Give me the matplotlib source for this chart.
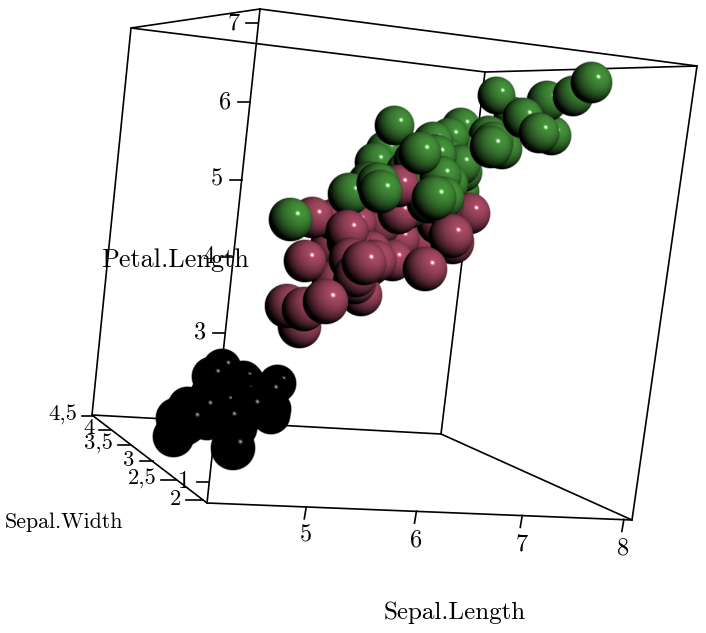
import numpy as np
import matplotlib
matplotlib.use("Agg")
import matplotlib.pyplot as plt

# iris values: sepal length, sepal width, petal length
setosa_sl = [5.1,4.9,4.7,4.6,5.0,5.4,4.6,5.0,4.4,4.9,5.4,4.8,4.8,4.3,5.8,5.7,5.4,5.1,5.7,5.1,5.4,5.1,4.6,5.1,4.8,
             5.0,5.0,5.2,5.2,4.7,4.8,5.4,5.2,5.5,4.9,5.0,5.5,4.9,4.4,5.1,5.0,4.5,4.4,5.0,5.1,4.8,5.1,4.6,5.3,5.0]
setosa_sw = [3.5,3.0,3.2,3.1,3.6,3.9,3.4,3.4,2.9,3.1,3.7,3.4,3.0,3.0,4.0,4.4,3.9,3.5,3.8,3.8,3.4,3.7,3.6,3.3,3.4,
             3.0,3.4,3.5,3.4,3.2,3.1,3.4,4.1,4.2,3.1,3.2,3.5,3.6,3.0,3.4,3.5,2.3,3.2,3.5,3.8,3.0,3.8,3.2,3.7,3.3]
setosa_pl = [1.4,1.4,1.3,1.5,1.4,1.7,1.4,1.5,1.4,1.5,1.5,1.6,1.4,1.1,1.2,1.5,1.3,1.4,1.7,1.5,1.7,1.5,1.0,1.7,1.9,
             1.6,1.6,1.5,1.4,1.6,1.6,1.5,1.5,1.4,1.5,1.2,1.3,1.4,1.3,1.5,1.3,1.3,1.3,1.6,1.9,1.4,1.6,1.4,1.5,1.4]
versi_sl = [7.0,6.4,6.9,5.5,6.5,5.7,6.3,4.9,6.6,5.2,5.0,5.9,6.0,6.1,5.6,6.7,5.6,5.8,6.2,5.6,5.9,6.1,6.3,6.1,6.4,
            6.6,6.8,6.7,6.0,5.7,5.5,5.5,5.8,6.0,5.4,6.0,6.7,6.3,5.6,5.5,5.5,6.1,5.8,5.0,5.6,5.7,5.7,6.2,5.1,5.7]
versi_sw = [3.2,3.2,3.1,2.3,2.8,2.8,3.3,2.4,2.9,2.7,2.0,3.0,2.2,2.9,2.9,3.1,3.0,2.7,2.2,2.5,3.2,2.8,2.5,2.8,2.9,
            3.0,2.8,3.0,2.9,2.6,2.4,2.4,2.7,2.7,3.0,3.4,3.1,2.3,3.0,2.5,2.6,3.0,2.6,2.3,2.7,3.0,2.9,2.9,2.5,2.8]
versi_pl = [4.7,4.5,4.9,4.0,4.6,4.5,4.7,3.3,4.6,3.9,3.5,4.2,4.0,4.7,3.6,4.4,4.5,4.1,4.5,3.9,4.8,4.0,4.9,4.7,4.3,
            4.4,4.8,5.0,4.5,3.5,3.8,3.7,3.9,5.1,4.5,4.5,4.7,4.4,4.1,4.0,4.4,4.6,4.0,3.3,4.2,4.2,4.2,4.3,3.0,4.1]
virgi_sl = [6.3,5.8,7.1,6.3,6.5,7.6,4.9,7.3,6.7,7.2,6.5,6.4,6.8,5.7,5.8,6.4,6.5,7.7,7.7,6.0,6.9,5.6,7.7,6.3,6.7,
            7.2,6.2,6.1,6.4,7.2,7.4,7.9,6.4,6.3,6.1,7.7,6.3,6.4,6.0,6.9,6.7,6.9,5.8,6.8,6.7,6.7,6.3,6.5,6.2,5.9]
virgi_sw = [3.3,2.7,3.0,2.9,3.0,3.0,2.5,2.9,2.5,3.6,3.2,2.7,3.0,2.5,2.8,3.2,3.0,3.8,2.6,2.2,3.2,2.8,2.8,2.7,3.3,
            3.2,2.8,3.0,2.8,3.0,2.8,3.8,2.8,2.8,2.6,3.0,3.4,3.1,3.0,3.1,3.1,3.1,2.7,3.2,3.3,3.0,2.5,3.0,3.4,3.0]
virgi_pl = [6.0,5.1,5.9,5.6,5.8,6.6,4.5,6.3,5.8,6.1,5.1,5.3,5.5,5.0,5.1,5.3,5.5,6.7,6.9,5.0,5.7,4.9,6.7,4.9,5.7,
            6.0,4.8,4.9,5.6,5.8,6.1,6.4,5.6,5.1,5.6,6.1,5.6,5.5,4.8,5.4,5.6,5.1,5.1,5.9,5.7,5.2,5.0,5.2,5.4,5.1]

sl_ticks = [5, 6, 7, 8]
sw_ticks = [2, 2.5, 3, 3.5, 4, 4.5]
sw_tick_labels = ["2", "2,5", "3", "3,5", "4", "4,5"]
sw_tick_lens = [17, 15, 13, 13, 12, 11]
pl_ticks = [1, 2, 3, 4, 5, 6, 7]

# box limits in data units and where its corners land in the picture
xlo, xhi = 4.13, 8.09
ylo, yhi = 1.93, 4.52
zlo, zhi = 0.72, 7.18
box_world = [(xlo, ylo, zlo), (xhi, ylo, zlo), (xhi, yhi, zlo), (xlo, yhi, zlo),
             (xlo, ylo, zhi), (xhi, ylo, zhi), (xhi, yhi, zhi), (xlo, yhi, zhi)]
box_pixels = [(207, 503), (632, 520), (441, 434), (92, 415),
              (260, 9), (697, 66), (485, 72), (131, 28)]
box_edges = [(0, 1), (1, 2), (2, 3), (3, 0), (4, 5), (5, 6), (6, 7), (7, 4),
             (0, 4), (1, 5), (2, 6), (3, 7)]

# camera matrix from the box corners
rows = []
for (X, Y, Z), (u, v) in zip(box_world, box_pixels):
    rows.append([X, Y, Z, 1, 0, 0, 0, 0, -u*X, -u*Y, -u*Z, -u])
    rows.append([0, 0, 0, 0, X, Y, Z, 1, -v*X, -v*Y, -v*Z, -v])
P = np.linalg.svd(np.array(rows))[2][-1].reshape(3, 4)
P = P / (P[2] @ np.array([6.1, 3.2, 3.95, 1]))


def project(x, y, z):
    q = P @ np.array([x, y, z, np.ones_like(x)], dtype=float)
    return q[0]/q[2], q[1]/q[2], q[2]


def sphere_sprite(color, spec_peak, n=64):
    u, v = np.meshgrid(np.linspace(-1, 1, n), np.linspace(1, -1, n))
    rr = np.sqrt(u**2 + v**2)
    nz = np.sqrt(np.clip(1 - rr**2, 0, 1))
    light = np.array([0.44, 0.37, 0.82])
    light = light / np.linalg.norm(light)
    diff = np.clip(u*light[0] + v*light[1] + nz*light[2], 0, 1)
    # highlight sits a third of the radius up and right of the centre
    half = np.array([0.33, 0.28, 0.90])
    half = half / np.linalg.norm(half)
    spec = np.clip(u*half[0] + v*half[1] + nz*half[2], 0, 1)**320 * spec_peak
    img = np.zeros((n, n, 4))
    for i in range(3):
        img[..., i] = np.clip(color[i]*diff + spec, 0, 1)
    img[..., 3] = np.clip((1 - rr)*n/2, 0, 1)
    return img


fig = plt.figure(figsize=(7.06, 6.33), dpi=100)
ax = fig.add_axes([0, 0, 1, 1])
font = dict(family="cmr10", color="black", zorder=1)

for a, b in box_edges:
    ax.plot([box_pixels[a][0], box_pixels[b][0]], [box_pixels[a][1], box_pixels[b][1]],
            color="black", lw=1.2, solid_capstyle="round", zorder=1)

# ticks on the three front edges
for t in sl_ticks:
    px, py, w = project(t, ylo, zlo)
    ax.plot([px, px-2], [py, py+12], color="black", lw=1.2, zorder=1)
    ax.text(px-0.5, py+29, str(t), ha="center", va="center", fontsize=17.5, **font)
for t, lab, ln in zip(sw_ticks, sw_tick_labels, sw_tick_lens):
    px, py, w = project(xlo, t, zlo)
    ax.plot([px, px-ln], [py, py], color="black", lw=1.2, zorder=1)
    ax.text(px-ln-5, py-1, lab, ha="right", va="center", fontsize=16.3, **font)
for t in pl_ticks:
    px, py, w = project(xlo, ylo, t)
    ax.plot([px, px-12], [py, py], color="black", lw=1.2, zorder=1)
    ax.text(px-19, py, str(t), ha="right", va="center", fontsize=17.5, **font)

ax.text(455, 613, "Sepal.Length", ha="center", va="center", fontsize=18, **font)
ax.text(64, 522, "Sepal.Width", ha="center", va="center", fontsize=15.8, **font)
ax.text(175.5, 260, "Petal.Length", ha="center", va="center", fontsize=18.9, **font)

# spheres, farthest first
groups = [(setosa_sl, setosa_sw, setosa_pl, (0.0, 0.0, 0.0), 0.72),
          (versi_sl, versi_sw, versi_pl, (0.66, 0.29, 0.39), 0.85),
          (virgi_sl, virgi_sw, virgi_pl, (0.27, 0.57, 0.23), 0.85)]
marks = []
for sl, sw, pl, color, spec_peak in groups:
    sprite = sphere_sprite(color, spec_peak)
    px, py, w = project(np.array(sl), np.array(sw), np.array(pl))
    for i in range(len(sl)):
        marks.append((w[i], px[i], py[i], sprite))
marks.sort(key=lambda m: -m[0])
for w, px, py, sprite in marks:
    r = 20.5 / w
    ax.imshow(sprite, extent=(px-r, px+r, py+r, py-r), zorder=2, aspect="auto")

ax.set_xlim(0, 706)
ax.set_ylim(633, 0)
ax.axis("off")
fig.savefig("out.png", dpi=100, facecolor="white")
